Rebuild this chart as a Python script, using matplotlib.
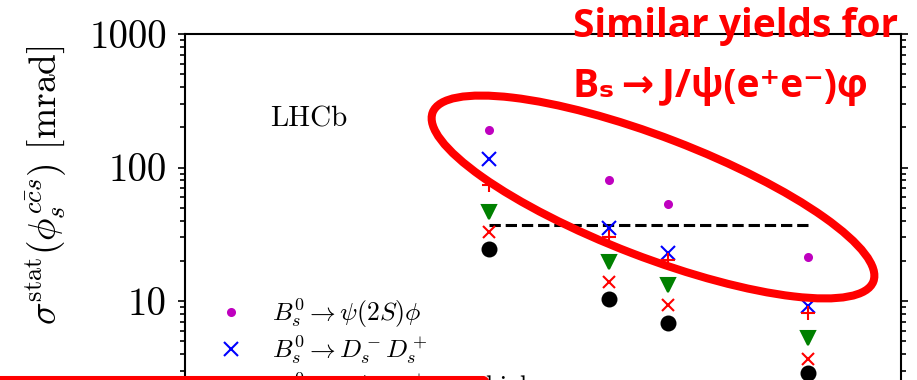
import matplotlib
matplotlib.use('Agg')
import matplotlib.pyplot as plt
from matplotlib.lines import Line2D
from matplotlib.patches import Ellipse, FancyBboxPatch
from matplotlib.ticker import FuncFormatter
from matplotlib.transforms import IdentityTransform

plt.rcParams['mathtext.fontset'] = 'cm'
plt.rcParams['font.family'] = 'serif'
plt.rcParams['font.serif'] = ['cmr10']
plt.rcParams['axes.unicode_minus'] = False

# projected statistical precision on phi_s per mode [mrad]
years = [2018, 2025, 2028.5, 2036.7]
psi2s_phi = [191, 80, 53, 21.5]
ds_ds = [115, 35, 23, 9.2]
jpsi_kk_high = [74, 30, 20.3, 8.2]
jpsi_pipi = [46.7, 19.5, 13.1, 5.3]
jpsi_kk_all = [33, 13.9, 9.4, 3.7]
jpsi_phi = [24.5, 10.3, 6.9, 2.9]
world_avg = 37

series = [
    (psi2s_phi, 'o', '#bf00bf', 5, r'$B_s^0 \to \psi(2S)\phi$'),
    (ds_ds, 'x', '#0000ff', 10, r'$B_s^0 \to D_s^- D_s^+$'),
    (jpsi_kk_high, '+', '#ff0000', 10, r'$B_s^0 \to J/\psi K^+K^-$ high mass'),
    (jpsi_pipi, 'v', '#008000', 10, r'$B_s^0 \to J/\psi \pi^+\pi^-$'),
    (jpsi_kk_all, 'x', '#ff0000', 9, r'$B_s^0 \to J/\psi K^+K^-$'),
    (jpsi_phi, 'o', 'black', 10, r'$B_s^0 \to J/\psi \phi$'),
]

fig = plt.figure(figsize=(9.17, 3.8), dpi=100)
# axes run off the bottom of the canvas
ax = fig.add_axes([185 / 917, (380 - 568) / 380, 716 / 917, 534 / 380])

handles = []
for vals, mk, col, ms, lab in series:
    ax.plot(years, vals, linestyle='none', marker=mk, color=col, ms=ms,
            mew=1.5, zorder=3)
    handles.append(Line2D([], [], linestyle='none', marker=mk, color=col,
                          ms=ms, mew=1.5, label=lab))

ax.hlines(world_avg, years[0], years[-1], colors='black', linestyles='--',
          linewidth=2.2)

ax.set_yscale('log')
ax.set_ylim(0.1, 1000)
ax.set_xlim(2000.15, 2042.15)
ax.yaxis.set_major_formatter(FuncFormatter(lambda v, p: f'{v:g}'))
ax.set_yticks([1, 10, 100, 1000])
ax.set_xticks([])
ax.tick_params(axis='y', which='both', direction='out', left=True, right=True,
               labelsize=28, width=1.2, pad=8)
ax.tick_params(axis='y', which='major', length=5)
ax.tick_params(axis='y', which='minor', length=3.5)
for s in ax.spines.values():
    s.set_linewidth(1.5)

ax.set_ylabel(r'$\sigma^{\rm stat}(\phi_s^{c\bar{c}s})$ [mrad]', fontsize=27)
ax.yaxis.set_label_coords(-0.162, 0.717)

ax.text(0.119, 0.826, 'LHCb', transform=ax.transAxes, fontsize=21,
        va='baseline')

ax.legend(handles=handles, loc='upper left', bbox_to_anchor=(0.046, 0.509),
          frameon=False, fontsize=18.5, handlelength=1.0, handletextpad=1.1,
          borderpad=0, borderaxespad=0, labelspacing=0.15, numpoints=1)

# red highlight annotations
ell = Ellipse((653, 380 - 197), 472, 120, angle=-21, fill=False,
              edgecolor='#ff0000', linewidth=5.8, transform=IdentityTransform())
fig.add_artist(ell)

box = FancyBboxPatch((-20, -100), 513, 100,
                     boxstyle='round,pad=0,rounding_size=10',
                     fill=False, edgecolor='#ff0000', linewidth=5.8,
                     transform=IdentityTransform())
fig.add_artist(box)

red_font = ['Open Sans', 'DejaVu Sans']
fig.text(573 / 917, 1 - 37 / 380, 'Similar yields for', color='#ff0000',
         fontsize=28, fontweight='bold', family=red_font, va='baseline')
fig.text(573 / 917, 1 - 97 / 380,
         'B\u209b\u2009\u2192\u2009J/\u03c8(e\u207ae\u207b)\u03c6',
         color='#ff0000', fontsize=28, fontweight='bold', family=red_font,
         va='baseline')

fig.savefig('out.png', dpi=100)
